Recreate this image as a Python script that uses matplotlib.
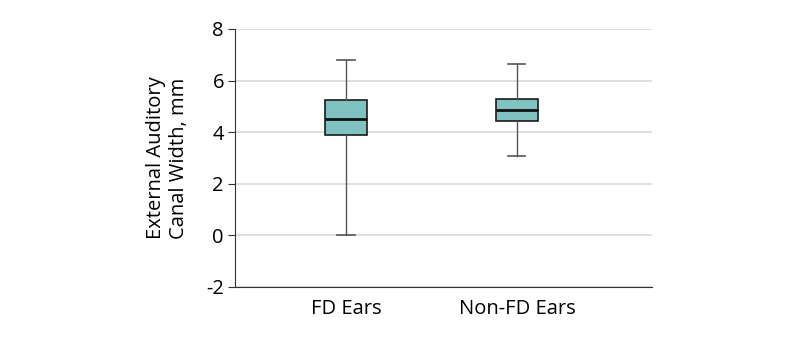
import matplotlib.pyplot as plt

plt.rcParams['font.family'] = ['Open Sans', 'DejaVu Sans']

groups = ["FD Ears", "Non-FD Ears"]
whislo = [0.0, 3.07]
q1 = [3.89, 4.42]
med = [4.52, 4.86]
q3 = [5.25, 5.27]
whishi = [6.8, 6.65]

stats = []
for i in range(len(groups)):
    stats.append({"label": groups[i], "whislo": whislo[i], "q1": q1[i],
                  "med": med[i], "q3": q3[i], "whishi": whishi[i], "fliers": []})

fig = plt.figure(figsize=(7.94, 3.39), dpi=100)
ax = fig.add_axes([235 / 794, 1 - 287 / 339, (652 - 235) / 794, (287 - 29) / 339])

ax.bxp(stats, positions=[1, 2], widths=0.245, showfliers=False, patch_artist=True,
       boxprops=dict(facecolor="#80c2c1", edgecolor="#1a1a1a", linewidth=1.2),
       medianprops=dict(color="#111111", linewidth=2),
       whiskerprops=dict(color="#555555", linewidth=1),
       capprops=dict(color="#555555", linewidth=1.2),
       capwidths=0.1, zorder=3)

ax.set_xlim(0.351, 2.79)
ax.set_ylim(-2, 8)
ax.set_yticks([-2, 0, 2, 4, 6, 8])
ax.set_yticklabels(["-2", "0", "2", "4", "6", "8"])
ax.yaxis.grid(True, color="#dcdcdc", linewidth=1.3, zorder=0)
ax.set_axisbelow(True)
for s in ["top", "right"]:
    ax.spines[s].set_visible(False)
ax.spines["left"].set_color("#333333")
ax.spines["bottom"].set_color("#333333")
ax.tick_params(axis="y", length=5, color="#333333", labelsize=14.5, pad=3)
ax.tick_params(axis="x", length=0, labelsize=14.5, pad=9)
ax.set_ylabel("External Auditory\nCanal Width, mm", fontsize=14.5, labelpad=12, linespacing=1.25)

fig.savefig("out.png", dpi=100)
